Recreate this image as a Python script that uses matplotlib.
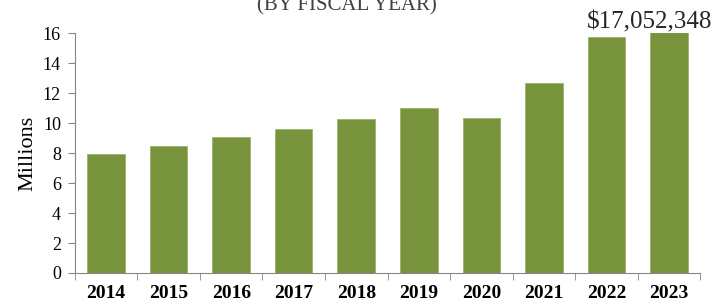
import matplotlib.pyplot as plt
import numpy as np

# Fiscal years and revenue (millions)
years = ['2014', '2015', '2016', '2017', '2018', '2019', '2020', '2021', '2022', '2023']
values = [7.93, 8.47, 9.07, 9.6, 10.27, 11.0, 10.33, 12.67, 15.75, 17.05]
last_label = '$17,052,348'

plt.rcParams['font.family'] = ['Liberation Serif', 'DejaVu Serif']

fig = plt.figure(figsize=(7.13, 3.04), dpi=100)
ax = fig.add_axes([0.105, 0.102, 0.877, 0.789])

x = np.arange(len(years))
ax.bar(x, values, width=0.6, color='#77933C', edgecolor='#9BB36A', linewidth=0.6)

ax.set_xlim(-0.5, len(years) - 0.5)
ax.set_ylim(0, 16)
ax.set_yticks(range(0, 17, 2))
ax.set_xticks(x)
ax.set_xticklabels(years, fontweight='bold', fontsize=14)
ax.set_xticks(np.arange(-0.5, len(years), 1), minor=True)
ax.tick_params(axis='x', which='major', length=0, pad=9)
ax.tick_params(axis='x', which='minor', length=5, color='#868686')
ax.tick_params(axis='y', length=5, color='#868686', labelsize=13, pad=5)

for s in ['top', 'right']:
    ax.spines[s].set_visible(False)
for s in ['left', 'bottom']:
    ax.spines[s].set_color('#868686')

ax.set_ylabel('Millions', fontsize=16, labelpad=4)

fig.text(0.487, 0.967, '(BY FISCAL YEAR)', ha='center', va='baseline',
         fontsize=15, color='#404040')
fig.text(0.999, 0.908, last_label, ha='right', va='baseline', fontsize=18,
         color='#262626')

plt.savefig('out.png', dpi=100)
